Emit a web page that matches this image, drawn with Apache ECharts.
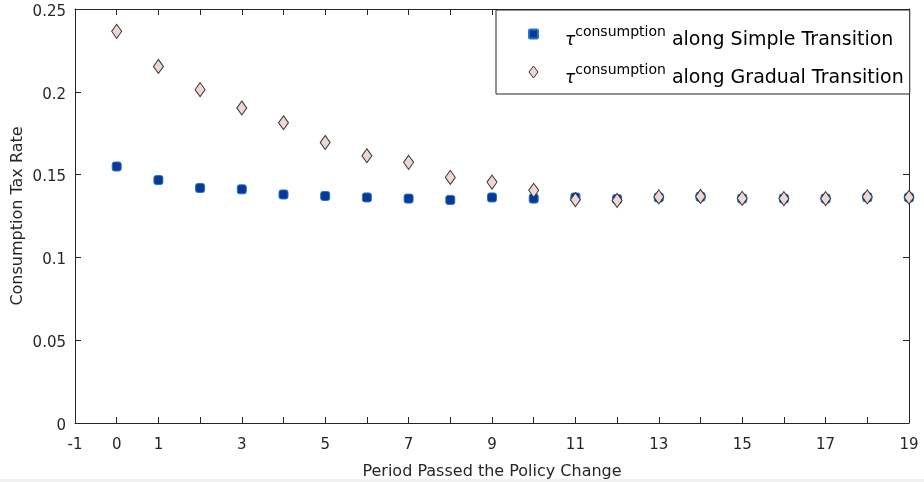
<!DOCTYPE html>
<html>
<head>
<meta charset="utf-8">
<title>Consumption Tax Rate along Transition</title>
<script src="https://cdn.jsdelivr.net/npm/echarts@6/dist/echarts.min.js"></script>
<style>
  html, body { margin: 0; padding: 0; background: #ffffff; }
  #chart { width: 924px; height: 482px; }
</style>
</head>
<body>
<div id="chart"></div>
<script>
// Periods after the policy change
const periods = [0, 1, 2, 3, 4, 5, 6, 7, 8, 9, 10, 11, 12, 13, 14, 15, 16, 17, 18, 19];

// Consumption tax rate along the simple transition
const simpleRates = [0.1549, 0.1467, 0.1419, 0.1411, 0.1380, 0.1371, 0.1362, 0.1355, 0.1347, 0.1362,
                     0.1355, 0.1362, 0.1352, 0.1362, 0.1366, 0.1355, 0.1355, 0.1355, 0.1363, 0.1362];

// Consumption tax rate along the gradual transition
const gradualRates = [0.2365, 0.2153, 0.2013, 0.1902, 0.1813, 0.1694, 0.1614, 0.1574, 0.1483, 0.1455,
                      0.1405, 0.1348, 0.1344, 0.1365, 0.1368, 0.1356, 0.1355, 0.1355, 0.1365, 0.1363];

// Axis ranges and labelled ticks
const xMin = -1, xMax = 19;
const xLabelled = [-1, 0, 1, 3, 5, 7, 9, 11, 13, 15, 17, 19];
const yMin = 0, yMax = 0.25, yStep = 0.05;

const seriesNames = ['Simple Transition', 'Gradual Transition'];

const FONT = 'DejaVu Sans';
const INK = '#262626';

const pairs = (ys) => periods.map((p, i) => [p, ys[i]]);

const chart = echarts.init(document.getElementById('chart'), null, { renderer: 'canvas' });

// Shared style for the four sides of the plot box
const boxAxis = () => ({
  axisLine: { show: true, onZero: false, lineStyle: { color: INK, width: 1 } },
  axisTick: { show: true, inside: true, length: 6, lineStyle: { color: INK, width: 1 } },
  splitLine: { show: false }
});

chart.setOption({
  backgroundColor: '#ffffff',
  animation: false,
  grid: { left: 75, right: 15, top: 9, bottom: 59, containLabel: false, outerBoundsMode: 'none' },
  graphic: [
    { type: 'rect', silent: true, shape: { x: 0, y: 479, width: 924, height: 3 }, style: { fill: '#f0f0f0' } }
  ],
  legend: {
    orient: 'vertical',
    left: 496,
    top: 10,
    padding: [8, 6, 6, 32],
    itemGap: 6,
    itemWidth: 9,
    itemHeight: 12,
    backgroundColor: '#ffffff',
    borderColor: INK,
    borderWidth: 1,
    borderRadius: 0,
    z: 10,
    data: [
      { name: seriesNames[0], icon: 'path://M1,0H7Q8,0 8,1V7Q8,8 7,8H1Q0,8 0,7V1Q0,0 1,0Z' },
      { name: seriesNames[1], icon: 'diamond', itemStyle: { borderWidth: 1, borderColor: '#333333' } }
    ],
    formatter: (name) => '{gap| }{tau|τ}{sup|consumption}{txt| along ' + name + '}',
    textStyle: {
      color: '#000000',
      fontFamily: FONT,
      rich: {
        gap: { width: 22, lineHeight: 32, fontSize: 10 },
        tau: { fontFamily: FONT, fontStyle: 'italic', fontSize: 17, height: 18, lineHeight: 18, verticalAlign: 'bottom', color: '#000000' },
        sup: { fontFamily: FONT, fontSize: 14, height: 29, lineHeight: 18, verticalAlign: 'top', color: '#000000' },
        txt: { fontFamily: FONT, fontSize: 19, height: 19, lineHeight: 19, verticalAlign: 'bottom', color: '#000000' }
      }
    }
  },
  xAxis: [
    Object.assign(boxAxis(), {
      type: 'value',
      position: 'bottom',
      min: xMin,
      max: xMax,
      interval: 1,
      name: 'Period Passed the Policy Change',
      nameLocation: 'middle',
      nameGap: 41,
      nameMoveOverlap: false,
      nameTextStyle: { color: INK, fontFamily: FONT, fontSize: 16 },
      axisLabel: {
        color: INK,
        fontFamily: FONT,
        fontSize: 15,
        margin: 15,
        interval: 0,
        showMinLabel: true,
        showMaxLabel: true,
        hideOverlap: false,
        formatter: (v) => (xLabelled.indexOf(v) >= 0 ? String(v) : '')
      }
    }),
    Object.assign(boxAxis(), {
      type: 'value',
      position: 'top',
      min: xMin,
      max: xMax,
      interval: 1,
      axisLabel: { show: false }
    })
  ],
  yAxis: [
    Object.assign(boxAxis(), {
      type: 'value',
      position: 'left',
      min: yMin,
      max: yMax,
      interval: yStep,
      name: 'Consumption Tax Rate',
      nameLocation: 'middle',
      nameGap: 49,
      nameMoveOverlap: false,
      nameTextStyle: { color: INK, fontFamily: FONT, fontSize: 16 },
      axisLabel: {
        color: INK,
        fontFamily: FONT,
        fontSize: 15,
        margin: 9,
        showMinLabel: true,
        showMaxLabel: true,
        formatter: (v) => '{v|' + String(+v.toFixed(2)) + '}',
        rich: {
          v: { fontFamily: FONT, fontSize: 15, color: INK, padding: [6, 0, 0, 0] }
        }
      }
    }),
    Object.assign(boxAxis(), {
      type: 'value',
      position: 'right',
      min: yMin,
      max: yMax,
      interval: yStep,
      axisLabel: { show: false }
    })
  ],
  series: [
    {
      name: seriesNames[0],
      type: 'scatter',
      xAxisIndex: 0,
      yAxisIndex: 0,
      clip: false,
      symbol: 'roundRect',
      symbolSize: 9,
      itemStyle: { color: '#093996', borderColor: '#2a73cc', borderWidth: 1, opacity: 1 },
      data: pairs(simpleRates)
    },
    {
      name: seriesNames[1],
      type: 'scatter',
      xAxisIndex: 0,
      yAxisIndex: 0,
      clip: false,
      symbol: 'diamond',
      symbolSize: [10, 14],
      itemStyle: { color: '#eed6d2', borderColor: '#333333', borderWidth: 1, opacity: 1 },
      data: pairs(gradualRates)
    }
  ]
});
</script>
</body>
</html>
